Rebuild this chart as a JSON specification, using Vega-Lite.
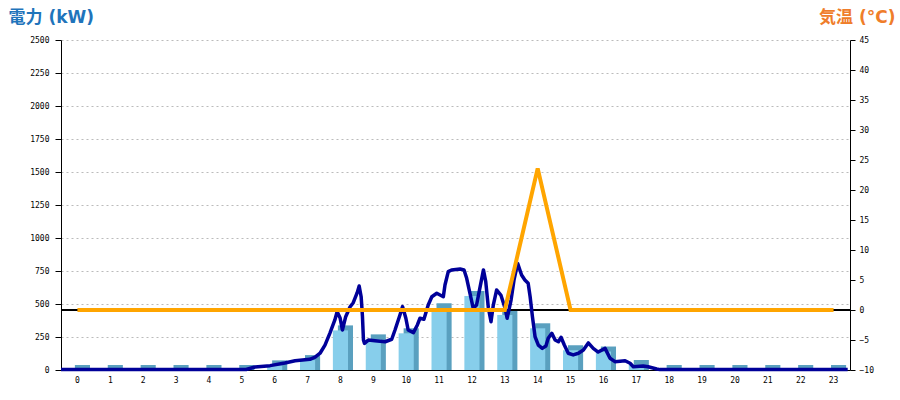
{
  "$schema": "https://vega.github.io/schema/vega-lite/v6.json",
  "width": 789,
  "height": 330,
  "autosize": {"type": "none"},
  "padding": {"left": 61, "top": 40, "right": 50, "bottom": 30},
  "background": "white",
  "config": {
    "view": {"stroke": null},
    "axis": {
      "labelFont": "DejaVu Sans Mono",
      "labelFontSize": 8,
      "labelColor": "#000000",
      "domainColor": "#000000",
      "tickColor": "#000000",
      "domainWidth": 1,
      "tickWidth": 1
    }
  },
  "datasets": {
    "bars": [
      {"hour": 0, "kw": 0}, {"hour": 1, "kw": 0}, {"hour": 2, "kw": 0}, {"hour": 3, "kw": 0},
      {"hour": 4, "kw": 0}, {"hour": 5, "kw": 0}, {"hour": 6, "kw": 35}, {"hour": 7, "kw": 75},
      {"hour": 8, "kw": 300}, {"hour": 9, "kw": 232}, {"hour": 10, "kw": 278}, {"hour": 11, "kw": 467},
      {"hour": 12, "kw": 560}, {"hour": 13, "kw": 417}, {"hour": 14, "kw": 316}, {"hour": 15, "kw": 150},
      {"hour": 16, "kw": 140}, {"hour": 17, "kw": 38}, {"hour": 18, "kw": 0}, {"hour": 19, "kw": 0},
      {"hour": 20, "kw": 0}, {"hour": 21, "kw": 0}, {"hour": 22, "kw": 0}, {"hour": 23, "kw": 0}
    ],
    "temp": [
      {"hour": 0, "t": 0}, {"hour": 1, "t": 0}, {"hour": 2, "t": 0}, {"hour": 3, "t": 0},
      {"hour": 4, "t": 0}, {"hour": 5, "t": 0}, {"hour": 6, "t": 0}, {"hour": 7, "t": 0},
      {"hour": 8, "t": 0}, {"hour": 9, "t": 0}, {"hour": 10, "t": 0}, {"hour": 11, "t": 0},
      {"hour": 12, "t": 0}, {"hour": 13, "t": 0}, {"hour": 14, "t": 23.6}, {"hour": 15, "t": 0},
      {"hour": 16, "t": 0}, {"hour": 17, "t": 0}, {"hour": 18, "t": 0}, {"hour": 19, "t": 0},
      {"hour": 20, "t": 0}, {"hour": 21, "t": 0}, {"hour": 22, "t": 0}, {"hour": 23, "t": 0}
    ],
    "power": [
      {"time": 0, "kw": 3}, {"time": 5.63, "kw": 4}, {"time": 5.9, "kw": 23}, {"time": 6.36, "kw": 33},
      {"time": 6.81, "kw": 53}, {"time": 7.12, "kw": 70}, {"time": 7.57, "kw": 81}, {"time": 7.73, "kw": 98},
      {"time": 7.88, "kw": 127}, {"time": 8.03, "kw": 189}, {"time": 8.18, "kw": 280}, {"time": 8.33, "kw": 379},
      {"time": 8.4, "kw": 442}, {"time": 8.49, "kw": 394}, {"time": 8.56, "kw": 303}, {"time": 8.66, "kw": 404},
      {"time": 8.79, "kw": 477}, {"time": 8.89, "kw": 510}, {"time": 9.01, "kw": 586}, {"time": 9.07, "kw": 636},
      {"time": 9.13, "kw": 555}, {"time": 9.17, "kw": 404}, {"time": 9.2, "kw": 227}, {"time": 9.23, "kw": 202},
      {"time": 9.35, "kw": 227}, {"time": 9.55, "kw": 222}, {"time": 9.86, "kw": 214}, {"time": 10.06, "kw": 233},
      {"time": 10.16, "kw": 303}, {"time": 10.31, "kw": 417}, {"time": 10.39, "kw": 480}, {"time": 10.49, "kw": 392},
      {"time": 10.56, "kw": 303}, {"time": 10.72, "kw": 283}, {"time": 10.84, "kw": 341}, {"time": 10.92, "kw": 392},
      {"time": 11.04, "kw": 384}, {"time": 11.17, "kw": 492}, {"time": 11.28, "kw": 555}, {"time": 11.43, "kw": 581},
      {"time": 11.63, "kw": 555}, {"time": 11.68, "kw": 644}, {"time": 11.78, "kw": 745}, {"time": 11.88, "kw": 758},
      {"time": 12.14, "kw": 765}, {"time": 12.26, "kw": 758}, {"time": 12.34, "kw": 695}, {"time": 12.44, "kw": 581},
      {"time": 12.54, "kw": 467}, {"time": 12.64, "kw": 492}, {"time": 12.75, "kw": 631}, {"time": 12.85, "kw": 758},
      {"time": 12.92, "kw": 669}, {"time": 13.0, "kw": 470}, {"time": 13.08, "kw": 366}, {"time": 13.15, "kw": 492},
      {"time": 13.25, "kw": 606}, {"time": 13.38, "kw": 568}, {"time": 13.51, "kw": 467}, {"time": 13.57, "kw": 392},
      {"time": 13.69, "kw": 530}, {"time": 13.78, "kw": 682}, {"time": 13.89, "kw": 808}, {"time": 14.01, "kw": 720},
      {"time": 14.11, "kw": 682}, {"time": 14.21, "kw": 657}, {"time": 14.27, "kw": 555}, {"time": 14.34, "kw": 404},
      {"time": 14.42, "kw": 252}, {"time": 14.52, "kw": 189}, {"time": 14.64, "kw": 164}, {"time": 14.75, "kw": 182},
      {"time": 14.82, "kw": 240}, {"time": 14.93, "kw": 278}, {"time": 15.03, "kw": 227}, {"time": 15.13, "kw": 214},
      {"time": 15.21, "kw": 248}, {"time": 15.31, "kw": 189}, {"time": 15.43, "kw": 127}, {"time": 15.58, "kw": 114},
      {"time": 15.74, "kw": 127}, {"time": 15.89, "kw": 152}, {"time": 16.04, "kw": 205}, {"time": 16.19, "kw": 164},
      {"time": 16.34, "kw": 136}, {"time": 16.55, "kw": 164}, {"time": 16.7, "kw": 89}, {"time": 16.85, "kw": 63},
      {"time": 17.16, "kw": 70}, {"time": 17.31, "kw": 51}, {"time": 17.41, "kw": 25}, {"time": 17.71, "kw": 30},
      {"time": 17.86, "kw": 25}, {"time": 18.12, "kw": 8}, {"time": 18.22, "kw": 3}, {"time": 23.93, "kw": 3}
    ]
  },
  "layer": [
    {
      "data": {"name": "bars"},
      "mark": {"type": "bar", "color": "#5aa0bf", "width": {"band": 0.46}, "xOffset": 5},
      "encoding": {
        "x": {"field": "hour", "type": "ordinal", "scale": {"type": "band", "paddingInner": 0, "paddingOuter": 0},
              "axis": {"title": null, "labelAngle": 0, "ticks": false, "labelPadding": 6, "domainColor": "#000000"}},
        "y": {"field": "kw", "type": "quantitative", "stack": null, "scale": {"domain": [-37.88, 2462.12], "nice": false, "zero": false}, "axis": null},
        "y2": {"datum": -37.88}
      }
    },
    {
      "data": {"name": "bars"},
      "mark": {"type": "bar", "color": "#87ceeb", "width": {"band": 0.46}},
      "encoding": {
        "x": {"field": "hour", "type": "ordinal", "scale": {"type": "band", "paddingInner": 0, "paddingOuter": 0}, "axis": null},
        "y": {"field": "kw", "type": "quantitative", "scale": {"domain": [0, 2500], "nice": false},
              "axis": {"orient": "left", "values": [0, 250, 500, 750, 1000, 1250, 1500, 1750, 2000, 2250, 2500],
                       "format": "d",
                       "grid": true, "gridColor": "#bbbbbb", "gridDash": [2, 3], "tickSize": 6, "labelPadding": 6,
                       "title": "電力 (kW)", "titleAngle": 0, "titleX": -53, "titleY": -23, "titleAlign": "left",
                       "titleBaseline": "middle", "titleFont": "DejaVu Sans, Noto Sans CJK JP", "titleFontSize": 17,
                       "titleFontWeight": "bold", "titleColor": "#1f74bb"}}
      }
    },
    {
      "data": {"name": "temp"},
      "mark": {"type": "rule", "color": "#000000", "strokeWidth": 1},
      "encoding": {
        "y": {"datum": 0, "type": "quantitative", "scale": {"domain": [-10, 45], "nice": false}, "axis": null}
      }
    },
    {
      "data": {"name": "power"},
      "mark": {"type": "line", "color": "#000099", "strokeWidth": 3.5, "strokeJoin": "round"},
      "encoding": {
        "x": {"field": "time", "type": "quantitative", "scale": {"domain": [0, 24], "nice": false}, "axis": null},
        "y": {"field": "kw", "type": "quantitative", "scale": {"domain": [0, 2500], "nice": false}, "axis": null}
      }
    },
    {
      "data": {"name": "temp"},
      "mark": {"type": "line", "color": "#ffa500", "strokeWidth": 4},
      "encoding": {
        "x": {"field": "hour", "type": "ordinal", "scale": {"type": "band", "paddingInner": 0, "paddingOuter": 0}, "axis": null},
        "y": {"field": "t", "type": "quantitative", "scale": {"domain": [-10, 45], "nice": false},
              "axis": {"orient": "right", "values": [-10, -5, 0, 5, 10, 15, 20, 25, 30, 35, 40, 45],
                       "grid": false, "tickSize": 5, "labelPadding": 4,
                       "title": "気温 (°C)", "titleAngle": 0, "titleX": 45, "titleY": -23, "titleAlign": "right",
                       "titleBaseline": "middle", "titleFont": "DejaVu Sans, Noto Sans CJK JP", "titleFontSize": 17,
                       "titleFontWeight": "bold", "titleColor": "#ef7d2a"}}
      }
    }
  ],
  "resolve": {"scale": {"x": "independent", "y": "independent"}, "axis": {"x": "independent", "y": "independent"}}
}
